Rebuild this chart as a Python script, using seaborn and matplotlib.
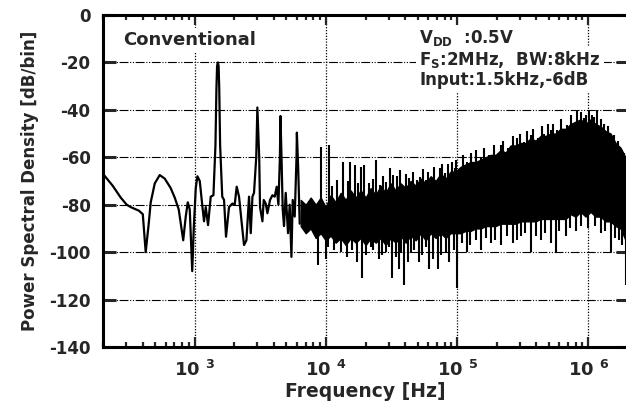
import numpy as np
import matplotlib
matplotlib.use('Agg')
import matplotlib.pyplot as plt
import seaborn as sns
from matplotlib.ticker import LogLocator, FixedLocator, NullFormatter, FuncFormatter

# ---- data ----
# clean low-frequency part: tone at 1.5 kHz and the first harmonics (Hz, dB/bin)
low_freq = [200, 237, 273, 303, 325, 375, 402, 423, 446, 462, 496, 541, 591, 656, 704,
            755, 817, 854, 885, 916, 957, 983, 1018, 1048, 1092, 1145, 1177, 1213, 1263,
            1324, 1388, 1438, 1463, 1480, 1500, 1520, 1537, 1561, 1620, 1672, 1731, 1825,
            1937, 2016, 2088, 2175, 2268, 2374, 2476, 2592, 2671, 2752, 2829, 2941, 3000,
            3099, 3143, 3279, 3355, 3474, 3579, 3746, 3907, 4067, 4212, 4340, 4455, 4500,
            4583, 4680, 4788, 4933, 5136, 5291, 5452, 5578, 5777, 5962, 6000, 6143, 6306]
low_psd = [-67, -72, -77, -80, -81, -82.5, -84, -100, -88, -79, -71, -67.5, -69, -73, -77,
           -82, -95, -85, -79, -82, -108, -90, -73, -68, -70, -81, -87, -81, -88.6,
           -76.6, -76, -55, -31, -21.5, -20, -21.5, -31, -55, -76.6, -78, -93.5, -81,
           -79.5, -80, -72.4, -76.6, -86.5, -97, -95, -76.6, -92, -76.6, -75, -60, -39,
           -60, -81, -87, -78, -79.5, -83.6, -78, -76, -76.6, -72.4, -80, -60, -42.6,
           -60, -82, -89, -75, -92, -80, -102, -78, -85, -60, -49.6, -65, -88]

# dense noise-shaped band: outline of the solid black area
band_freq = [6416, 7004, 7647, 8347, 9112, 9947, 10860, 11850, 12940, 14130, 15420, 16840,
             18380, 20060, 21900, 23910, 26100, 28490, 31100, 33950, 37070, 40460, 44180,
             48220, 52640, 57450, 62730, 68480, 74760, 81610, 89080, 97230, 106200, 115900,
             126500, 138100, 150800, 164600, 179700, 196100, 214100, 233700, 255200, 278500,
             304100, 331900, 362400, 395500, 431800, 471300, 514500, 561600, 613100, 669200,
             730700, 797500, 870800, 950300, 1.038e6, 1.133e6, 1.236e6, 1.35e6, 1.473e6,
             1.608e6, 1.756e6, 1.95e6]
band_top = [-78, -80, -77, -80, -77, -81, -76, -79, -75, -78, -74, -77, -74, -77, -73, -76,
            -72, -75, -71, -74, -71, -73, -70, -72, -69, -71, -68, -70, -67, -69, -66, -66,
            -64, -63, -62, -62, -61, -60, -59, -59, -57, -58, -55, -55, -54, -54, -52, -53,
            -51, -51, -50, -50, -48, -48, -46, -45, -44, -46, -44, -46, -47, -49, -50, -54,
            -56, -61]
band_bottom = [-89, -92, -90, -94, -92, -95, -93, -96, -94, -97, -94, -96, -94, -97, -94, -96,
               -94, -97, -94, -96, -93, -96, -93, -95, -92, -95, -92, -94, -92, -94, -92, -92,
               -92, -91, -91, -90, -90, -89, -89, -89, -88, -88, -88, -88, -87, -87, -87, -87,
               -86, -86, -86, -86, -86, -86, -84, -85, -83, -85, -83, -85, -85, -87, -87, -89,
               -90, -96]

# single bins sticking out of the band
spike_up_freq = [9112, 10540, 12210, 13480, 15150, 16550, 18380, 19470, 21260, 24210, 25780,
                 28840, 30550, 32610, 36420, 38590, 43170, 49670, 51990, 57450, 64610, 73450,
                 80170, 89080, 95550, 103000, 119400, 150800, 173400, 214100, 242000, 286900,
                 320300, 362400, 409700, 457500, 514500, 578700, 689800, 821700, 922600,
                 1.007e6, 1.1e6, 1.167e6, 1.303e6, 1.561e6, 1.809e6,
                 11200, 14800, 17500, 22800, 27300, 34500, 41000, 46000, 55000, 60000, 67000,
                 77000, 85000, 92000, 98000, 110000, 128000, 140000, 160000, 190000, 225000,
                 265000, 300000, 340000, 380000, 440000, 490000, 540000, 620000, 740000,
                 870000, 960000, 1.06e6, 1.25e6, 1.4e6, 1.68e6, 1.88e6]
spike_up_psd = [-55.5, -54.8, -69.6, -61.9, -61.9, -63.3, -64, -63.3, -71, -61.2, -71.7,
                -70.3, -64.7, -67.5, -65.4, -72.4, -68.9, -69.6, -68.2, -69.4, -69.6, -64.7,
                -66.8, -67.5, -64.7, -65.5, -62, -60.5, -59, -55, -56, -52, -53.5, -50.6, -52,
                -50, -48.5, -48.5, -46.4, -40, -43.4, -40, -43, -40, -46, -50.6, -57,
                -72, -70, -71, -69, -68, -68, -67, -66, -65, -66, -64,
                -63, -63, -62, -61, -59, -58, -57, -56, -55, -53,
                -51, -50, -49, -48, -47, -46, -46, -44, -42,
                -41, -42, -42, -44, -47, -53, -58]
spike_dn_freq = [8647, 9947, 11450, 14550, 17350, 18710, 21900, 25200, 28490, 32040, 35970,
                 39280, 44180, 50820, 60550, 70900, 81610, 100200, 119400, 150800, 179700,
                 214100, 264200, 304100, 362400, 431800, 561600, 669200, 797500, 1.0e6,
                 1.236e6, 1.473e6, 1.696e6, 1.917e6,
                 10300, 13000, 15900, 20000, 23000, 26800, 30000, 34000, 37500, 42000, 47000,
                 54000, 57500, 65000, 75000, 86000, 95000, 108000, 125000, 140000, 165000,
                 195000, 240000, 285000, 330000, 400000, 470000, 520000, 600000, 720000,
                 880000, 1.12e6, 1.33e6, 1.58e6, 1.8e6]
spike_dn_psd = [-105.4, -103, -99, -102, -104, -111, -98, -103, -100, -111, -107, -114, -100,
                -104, -107, -107, -100, -115, -100, -99, -96, -97, -96, -93, -100, -95, -100,
                -93, -91, -90, -92, -100, -95, -114,
                -98, -100, -99, -101, -99, -101, -98, -102, -100, -104, -99,
                -101, -98, -103, -101, -104, -99, -96, -97, -95, -94,
                -95, -93, -95, -92, -93, -92, -96, -91, -90,
                -89, -89, -91, -94, -97]

SPIKE_BASE = -82  # spikes start inside the solid band

# ---- style ----
sns.set_style('white')
plt.rcParams['font.family'] = ['DejaVu Sans']
plt.rcParams['font.weight'] = 'bold'
plt.rcParams['axes.labelweight'] = 'bold'
plt.rcParams['mathtext.default'] = 'bf'
plt.rcParams['axes.unicode_minus'] = False

fig = plt.figure(figsize=(6.26, 4.04), dpi=100)
ax = fig.add_axes([103 / 626, 57 / 404, 525 / 626, 332 / 404])

# ---- data ----
ax.fill_between(band_freq, band_bottom, band_top, color='black', lw=1.0, zorder=3)
ax.vlines(spike_up_freq, SPIKE_BASE, spike_up_psd, color='black', lw=1.5, zorder=3)
ax.vlines(spike_dn_freq, SPIKE_BASE, spike_dn_psd, color='black', lw=1.5, zorder=3)
sns.lineplot(x=low_freq, y=low_psd, ax=ax, color='black', lw=1.6, estimator=None,
             sort=False, zorder=4)
for l in ax.lines:
    l.set_solid_joinstyle('round')

# ---- axes ----
ax.set_xscale('log')
ax.set_xlim(200, 2e6)
ax.set_ylim(-140, 0)
ax.yaxis.set_major_locator(FixedLocator(np.arange(-140, 1, 20)))
ax.xaxis.set_major_locator(FixedLocator([1e3, 1e4, 1e5, 1e6]))
ax.xaxis.set_minor_locator(LogLocator(base=10, subs=np.arange(2, 10)))
ax.xaxis.set_minor_formatter(NullFormatter())
ax.xaxis.set_major_formatter(FuncFormatter(lambda v, p: '10 $^{%d}$' % round(np.log10(v))))

for s in ax.spines.values():
    s.set_linewidth(2.2)
    s.set_color('black')
ax.tick_params(axis='y', which='major', direction='in', left=True, right=True,
               length=9, width=2.2, labelsize=12, pad=9)
ax.tick_params(axis='x', which='major', direction='in', bottom=True, top=True,
               length=7, width=1.6, labelsize=13, pad=9)
ax.tick_params(axis='x', which='minor', direction='in', bottom=True, top=True,
               length=3.6, width=1.6)

ax.set_axisbelow(True)
ax.yaxis.grid(True, color='black', lw=0.8, linestyle=(0, (8, 1.5, 1, 1.5, 1, 1.5)))
ax.xaxis.grid(True, which='major', color='black', lw=0.9, linestyle=(0, (1, 1.3)))

ax.set_xlabel('Frequency [Hz]', fontsize=13.5, labelpad=2)
ax.set_ylabel('Power Spectral Density [dB/bin]', fontsize=12, labelpad=7)

box = dict(facecolor='white', edgecolor='none', pad=2)
ax.text(0.038, 0.91, 'Conventional', transform=ax.transAxes, fontsize=13,
        fontweight='bold', bbox=box, zorder=5)
ax.text(0.602, 0.916, 'V$_{DD}$  :0.5V', transform=ax.transAxes, fontsize=12,
        fontweight='bold', bbox=box, zorder=5)
ax.text(0.602, 0.849, 'F$_{S}$:2MHz,  BW:8kHz', transform=ax.transAxes, fontsize=12,
        fontweight='bold', bbox=box, zorder=5)
ax.text(0.602, 0.789, 'Input:1.5kHz,-6dB', transform=ax.transAxes, fontsize=12,
        fontweight='bold', bbox=box, zorder=5)

fig.savefig('out.png', dpi=100)
